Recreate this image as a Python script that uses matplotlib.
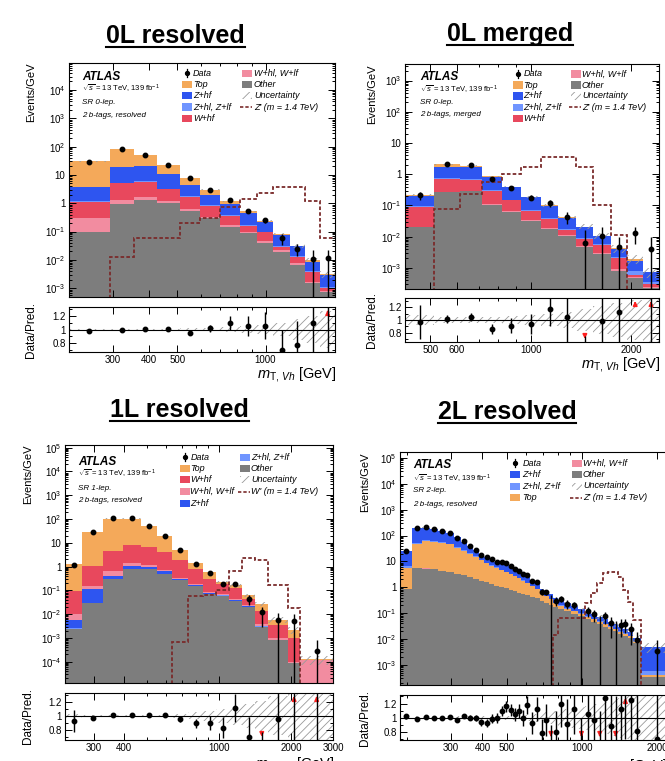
import numpy as np
import matplotlib
matplotlib.use('Agg')
import matplotlib.pyplot as plt
from matplotlib.patches import Rectangle
from matplotlib.lines import Line2D
from matplotlib.ticker import FixedLocator, LogLocator, NullFormatter, FuncFormatter, MultipleLocator

plt.rcParams['font.family'] = ['Liberation Sans', 'DejaVu Sans']
plt.rcParams['mathtext.fontset'] = 'custom'
plt.rcParams['mathtext.rm'] = 'Liberation Sans'
plt.rcParams['mathtext.it'] = 'Liberation Sans:italic'
plt.rcParams['mathtext.bf'] = 'Liberation Sans:bold'
plt.rcParams['hatch.linewidth'] = 0.6
plt.rcParams['hatch.color'] = '#9a9a9a'

W, H = 665, 761

colors = {
    'top': '#f4a95a',
    'zhf': '#2e55f0',
    'zhl': '#7095ff',
    'whf': '#e8485d',
    'whl': '#f28ca0',
    'other': '#7d7d7d',
}
sig_color = '#7a2b2b'

# ---------------- 0L resolved ----------------
edges_0lr = [213, 294, 354, 424, 510, 599, 701, 816, 934, 1064, 1208, 1366, 1539, 1727]
other_0lr = [0.1, 0.95, 1.3, 1.0, 0.52, 0.3, 0.15, 0.087, 0.041, 0.0195, 0.0066, 0.0015, 0.00076]
whl_0lr = [0.2, 0.35, 0.4, 0.24, 0.1, 0.04, 0.02, 0.008, 0.005, 0.0025, 0.0009, 0.0002, 0.00004]
whf_0lr = [0.85, 3.8, 4.0, 1.86, 1.08, 0.46, 0.2, 0.065, 0.049, 0.0075, 0.0055, 0.0019, 0.0002]
zhl_0lr = [0.1, 0.3, 0.3, 0.2, 0.1, 0.05, 0.03, 0.01, 0.005, 0.002, 0.001, 0.0003, 0.0001]
zhf_0lr = [2.65, 14.3, 15.0, 7.2, 2.8, 1.05, 0.55, 0.28, 0.11, 0.0445, 0.016, 0.0044, 0.0019]
top_0lr = [26.1, 62.3, 31.0, 11.5, 3.4, 1.1, 0.25, 0.07, 0.035, 0.007, 0.002, 0.0017, 0.0001]
sig_0lr = [1e-6, 0.013, 0.058, 0.058, 0.2, 0.3, 0.76, 1.4, 2.4, 3.7, 3.9, 1.25, 0.058]
ratio_0lr = [0.976, 1.0, 1.01, 1.005, 0.95, 1.015, 1.1, 1.055, 1.055, 0.70, 0.77, 1.1, 3.7]
rerr_0lr = [0.01, 0.01, 0.01, 0.015, 0.02, 0.05, 0.1, 0.15, 0.2, 0.3, 0.35, 1.15, 3.8]
unc_0lr = [0.01, 0.01, 0.01, 0.01, 0.015, 0.025, 0.04, 0.05, 0.07, 0.1, 0.15, 0.2, 0.27]

# ---------------- 0L merged ----------------
edges_0lm = [420, 513, 613, 713, 817, 933, 1071, 1209, 1369, 1539, 1736, 1946, 2168, 2420]
other_0lm = [0.02, 0.26, 0.28, 0.107, 0.063, 0.032, 0.018, 0.0104, 0.0047, 0.0028, 0.0008, 0.00046, 0.00023]
whl_0lm = [0.001, 0.01, 0.01, 0.005, 0.003, 0.002, 0.0015, 0.001, 0.0005, 0.0003, 0.0001, 0.00005, 0.00002]
whf_0lm = [0.07, 0.43, 0.36, 0.183, 0.082, 0.032, 0.0185, 0.0046, 0.0035, 0.0023, 0.0011, 0.00007, 0.00005]
zhl_0lm = [0.003, 0.03, 0.03, 0.01, 0.006, 0.003, 0.002, 0.001, 0.0006, 0.0003, 0.0002, 0.0002, 0.00004]
zhf_0lm = [0.111, 1.01, 0.98, 0.495, 0.226, 0.111, 0.058, 0.024, 0.0107, 0.0045, 0.0017, 0.00082, 0.00038]
top_0lm = [0.01, 0.38, 0.22, 0.05, 0.02, 0.01, 0.002, 0.001, 0.001, 0.0003, 0.0003, 0.0003, 0.00002]
sig_0lm = [1e-6, 0.076, 0.23, 0.57, 1.0, 1.76, 3.5, 3.5, 1.76, 0.1, 0.011, 1e-6, 1e-6]
ratio_0lm = [0.973, 1.016, 1.05, 0.85, 0.91, 0.935, 1.175, 1.05, 0.3, 0.985, 1.12, 6.8, 5.3]
rerr_0lm = [0.27, 0.06, 0.06, 0.08, 0.12, 0.16, 0.27, 0.45, 0.45, 1.0, 1.2, 3.7, 8.0]
unc_0lm = [0.08, 0.04, 0.04, 0.05, 0.06, 0.08, 0.1, 0.13, 0.17, 0.22, 0.27, 0.32, 0.38]

# ---------------- 1L resolved ----------------
edges_1l = [227, 268, 327, 398, 472, 553, 639, 745, 858, 975, 1101, 1243, 1422, 1605, 1944, 2190, 3000]
other_1l = [0.0023, 0.029, 0.29, 0.78, 0.78, 0.49, 0.26, 0.145, 0.07, 0.06, 0.036, 0.02, 0.003, 0.0008, 0.000085, 0.0]
zhl_1l = [0.0004, 0.001, 0.01, 0.02, 0.02, 0.01, 0.005, 0.003, 0.001, 0.001, 0.001, 0.0003, 0.0001, 0.00002, 0.000002, 0.0]
zhf_1l = [0.0029, 0.08, 0.12, 0.27, 0.2, 0.12, 0.025, 0.022, 0.004, 0.003, 0.003, 0.0007, 0.0002, 0.00003, 0.000003, 0.0]
whl_1l = [0.0043, 0.035, 0.2, 0.31, 0.17, 0.08, 0.04, 0.02, 0.01, 0.006, 0.005, 0.003, 0.0007, 0.00015, 0.00001, 0.00012]
whf_1l = [0.088, 0.925, 3.68, 6.82, 5.73, 3.3, 1.57, 0.61, 0.215, 0.12, 0.075, 0.02, 0.01, 0.0025, 0.0009, 0.0]
top_1l = [1.2, 28.4, 100.7, 96.8, 45.1, 15.0, 3.1, 0.65, 0.27, 0.04, 0.04, 0.018, 0.013, 0.0023, 0.0011, 0.000005]
sig_1l = [1e-7, 1e-7, 1e-7, 1e-7, 1e-7, 1e-7, 0.0007, 0.06, 0.065, 0.1, 0.62, 2.2, 1.9, 0.17, 0.018, 1e-7]
ratio_1l = [0.93, 0.965, 1.005, 1.01, 1.005, 1.005, 0.955, 0.89, 0.9, 0.83, 1.11, 0.69, 0.44, 0.95, 2.4, 2.3]
rerr_1l = [0.16, 0.02, 0.01, 0.01, 0.01, 0.02, 0.04, 0.07, 0.1, 0.15, 0.2, 0.3, 0.33, 1.0, 2.5, 4.5]
unc_1l = [0.03, 0.01, 0.01, 0.01, 0.01, 0.015, 0.03, 0.05, 0.07, 0.1, 0.13, 0.17, 0.22, 0.28, 0.33, 0.4]

# ---------------- 2L resolved ----------------
edges_2l = [187, 209, 228.5, 247.5, 266.5, 286, 306.5, 327, 346.5, 366.5, 387, 406.5, 425.5, 445.5,
            466.5, 488.5, 509.5, 529.5, 550.5, 570, 591.5, 618.5, 648, 678.5, 708, 736.5, 769, 805.5,
            846.5, 903.5, 967.5, 1028.5, 1090, 1150, 1212, 1273.5, 1335.5, 1400, 1464, 1531, 1610.5,
            1730, 2300]
other_2l = [0.84, 5.7, 5.3, 4.9, 4.4, 3.9, 3.3, 2.9, 2.5, 2.1, 1.8, 1.55, 1.35, 1.15, 1.0, 0.9, 0.8,
            0.7, 0.62, 0.56, 0.48, 0.42, 0.37, 0.3, 0.25, 0.21, 0.17, 0.14, 0.12, 0.09, 0.075, 0.058,
            0.047, 0.038, 0.03, 0.025, 0.02, 0.016, 0.013, 0.011, 0.0068, 0.00035]
whl_2l = [0.005, 0.04, 0.04, 0.035, 0.03, 0.025, 0.02, 0.018, 0.015, 0.012, 0.01, 0.009, 0.008, 0.007,
          0.006, 0.005, 0.0045, 0.004, 0.0035, 0.003, 0.0027, 0.0024, 0.0021, 0.0018, 0.0015, 0.0012,
          0.001, 0.0008, 0.0007, 0.0006, 0.0005, 0.0004, 0.00035, 0.0003, 0.00025, 0.0002, 0.00017,
          0.00014, 0.00012, 0.0001, 0.00008, 0.0]
top_2l = [4.96, 39.3, 54.7, 53.1, 47.6, 41.1, 30.7, 23.1, 17.5, 12.9, 9.2, 6.95, 5.45, 4.35, 3.5, 2.9,
          2.4, 2.0, 1.58, 1.24, 0.97, 0.68, 0.48, 0.3, 0.2, 0.13, 0.07, 0.05, 0.03, 0.025, 0.018,
          0.014, 0.011, 0.008, 0.007, 0.005, 0.004, 0.003, 0.0025, 0.0015, 0.001, 0.00005]
zhl_2l = [0.6, 5, 5.5, 5, 4.5, 3.5, 2.5, 1.7, 1.2, 0.8, 0.5, 0.45, 0.35, 0.3, 0.25, 0.2, 0.17, 0.13,
          0.1, 0.09, 0.07, 0.05, 0.04, 0.025, 0.02, 0.016, 0.011, 0.009, 0.007, 0.005, 0.004, 0.0033,
          0.0027, 0.0021, 0.0017, 0.0014, 0.0011, 0.0009, 0.0007, 0.0006, 0.0004, 0.0002]
zhf_2l = [18.6, 142, 138.5, 118, 99.5, 74.5, 49.5, 30.3, 18.8, 12.2, 6.5, 6.45, 4.85, 4.0, 3.75, 3.3,
          2.53, 1.87, 1.4, 1.31, 1.08, 0.65, 0.51, 0.215, 0.21, 0.194, 0.119, 0.101, 0.093, 0.06,
          0.043, 0.0387, 0.0323, 0.0249, 0.0193, 0.0156, 0.0129, 0.0101, 0.0078, 0.0059, 0.0024, 0.0042]
sig_2l = [1e-7] * 26 + [0.014, 0.063, 0.063, 0.063, 0.063, 0.25, 0.59, 1.43, 3.5, 4.0, 4.0, 2.6,
                        0.79, 0.28, 0.055, 1e-7]
ratio_2l = [1.02, 0.98, 1.01, 1.0, 1.0, 1.015, 0.975, 1.03, 1.0, 1.0, 0.94, 0.93, 0.99, 1.0, 1.1, 1.16,
            1.11, 1.05, 1.1, 1.0, 1.18, 0.93, 1.12, 0.79, 0.97, 0.0, 0.8, 1.2, 0.92, 1.13, 0.0, 1.05,
            0.97, 0.0, 1.28, 0.89, 0.0, 1.13, 1.6, 1.25, 0.82, 0.7]
rerr_2l = [0.04, 0.02, 0.02, 0.02, 0.02, 0.02, 0.025, 0.03, 0.035, 0.04, 0.05, 0.055, 0.06, 0.065,
           0.07, 0.08, 0.085, 0.09, 0.1, 0.11, 0.13, 0.15, 0.17, 0.2, 0.22, 0.9, 0.3, 0.33, 0.35, 0.35,
           1.0, 0.45, 0.5, 1.1, 0.6, 0.65, 1.3, 0.75, 0.9, 0.95, 1.0, 1.2]
unc_2l = [0.03, 0.02, 0.02, 0.02, 0.02, 0.02, 0.02, 0.02, 0.02, 0.02, 0.02, 0.02, 0.025, 0.025, 0.03,
          0.03, 0.03, 0.035, 0.035, 0.04, 0.04, 0.05, 0.06, 0.07, 0.08, 0.09, 0.1, 0.11, 0.12, 0.14,
          0.15, 0.17, 0.19, 0.2, 0.22, 0.24, 0.26, 0.28, 0.3, 0.32, 0.35, 0.4]

labels = {'data': 'Data', 'top': 'Top', 'zhf': 'Z+hf', 'zhl': 'Z+hl, Z+lf', 'whf': 'W+hf',
          'whl': 'W+hl, W+lf', 'other': 'Other', 'unc': 'Uncertainty'}

panels = [
    dict(title='0L resolved', title_xy=(175.5, 43),
         edges=edges_0lr,
         stack=[('other', other_0lr), ('whl', whl_0lr), ('whf', whf_0lr), ('zhl', zhl_0lr),
                ('zhf', zhf_0lr), ('top', top_0lr)],
         sig=sig_0lr, sig_label="Z' (m = 1.4 TeV)", ratio=ratio_0lr, rerr=rerr_0lr, unc=unc_0lr,
         main=(69, 63, 335, 297), rbox=(69, 307, 335, 352),
         xlim=(213, 1727), ylim=(4.9e-4, 9e4), rylim=(0.67, 1.33), xticks=[300, 400, 500, 1000],
         ylab_x=31, xlab_xy=(337, 374.5),
         atlas=(82, [77, 89, 102.5, 115.5]), region=['SR 0-lep.', '2 b-tags, resolved'],
         leg=[['data', 'top', 'zhf', 'zhl', 'whf'], ['whl', 'other', 'unc', 'sig']],
         leg_c=(186.5, 246.5), leg_t=(193, 254), leg_rows=[73.3, 84.7, 95.7, 107, 118.3]),
    dict(title='0L merged', title_xy=(510, 41),
         edges=edges_0lm,
         stack=[('other', other_0lm), ('whl', whl_0lm), ('whf', whf_0lm), ('zhl', zhl_0lm),
                ('zhf', zhf_0lm), ('top', top_0lm)],
         sig=sig_0lm, sig_label="Z' (m = 1.4 TeV)", ratio=ratio_0lm, rerr=rerr_0lm, unc=unc_0lm,
         main=(405, 64, 659, 289), rbox=(405, 298, 659, 342),
         xlim=(420, 2420), ylim=(2.1e-4, 3.4e3), rylim=(0.65, 1.35), xticks=[500, 600, 1000, 2000],
         ylab_x=372, xlab_xy=(661, 364.5),
         atlas=(420, [77, 90, 103, 115]), region=['SR 0-lep.', '2 b-tags, merged'],
         leg=[['data', 'top', 'zhf', 'zhl', 'whf'], ['whl', 'other', 'unc', 'sig']],
         leg_c=(518, 576), leg_t=(523.5, 582), leg_rows=[74, 85, 96, 107.3, 118.3]),
    dict(title='1L resolved', title_xy=(179.5, 417),
         edges=edges_1l,
         stack=[('other', other_1l), ('zhl', zhl_1l), ('zhf', zhf_1l), ('whl', whl_1l),
                ('whf', whf_1l), ('top', top_1l)],
         sig=sig_1l, sig_label="W' (m = 1.4 TeV)", ratio=ratio_1l, rerr=rerr_1l, unc=unc_1l,
         main=(65, 445, 333, 683), rbox=(65, 693, 333, 740),
         xlim=(227, 3000), ylim=(1.26e-5, 1.3e5), rylim=(0.65, 1.33),
         xticks=[300, 400, 1000, 2000, 3000],
         ylab_x=28, xlab_xy=(335, 764),
         atlas=(78, [462, 474, 488, 500]), region=['SR 1-lep.', '2 b-tags, resolved'],
         leg=[['data', 'top', 'whf', 'whl', 'zhf'], ['zhl', 'other', 'unc', 'sig']],
         leg_c=(185, 244.7), leg_t=(190.5, 251), leg_rows=[457.3, 468.3, 480, 491.7, 503]),
    dict(title='2L resolved', title_xy=(507, 419),
         edges=edges_2l,
         stack=[('other', other_2l), ('whl', whl_2l), ('top', top_2l), ('zhl', zhl_2l),
                ('zhf', zhf_2l)],
         sig=sig_2l, sig_label="Z' (m = 1.4 TeV)", ratio=ratio_2l, rerr=rerr_2l, unc=unc_2l,
         main=(400, 452, 672, 685), rbox=(400, 695, 672, 740),
         xlim=(187, 2300), ylim=(1.66e-4, 1.7e5), rylim=(0.69, 1.32),
         xticks=[300, 400, 500, 1000, 2000],
         ylab_x=365, xlab_xy=(668, 766),
         atlas=(413, [465, 478.5, 491, 504]), region=['SR 2-lep.', '2 b-tags, resolved'],
         leg=[['data', 'zhf', 'zhl', 'top'], ['whl', 'other', 'unc', 'sig']],
         leg_c=(515, 576.7), leg_t=(522.5, 583), leg_rows=[463.3, 474.7, 486, 497.7]),
]

fig = plt.figure(figsize=(W / 100, H / 100), dpi=100)


def fx(x):
    return x / W


def fy(y):
    return 1 - y / H


def add_box(l, t, r, b):
    return fig.add_axes([fx(l), fy(b), (r - l) / W, (b - t) / H])


def ylog_label(v, pos):
    e = int(round(np.log10(v)))
    if e == 0:
        return '1'
    if e == 1:
        return '10'
    return r'$10^{%d}$' % e


def style(ax):
    ax.tick_params(which='both', direction='in', top=True, right=True, labelsize=7, width=0.7,
                   pad=2.5)
    ax.tick_params(which='major', length=5)
    ax.tick_params(which='minor', length=2.5, labelleft=False, labelbottom=False)
    for s in ax.spines.values():
        s.set_linewidth(0.8)


def draw_legend(p):
    for col, keys in enumerate(p['leg']):
        cx = p['leg_c'][col]
        tx = p['leg_t'][col]
        for row, key in enumerate(keys):
            cy = p['leg_rows'][row]
            if key == 'data':
                fig.add_artist(Line2D([fx(cx), fx(cx)], [fy(cy - 4), fy(cy + 4)], color='k', lw=0.9,
                                      transform=fig.transFigure))
                fig.add_artist(Line2D([fx(cx)], [fy(cy)], marker='o', ms=2.8, color='k',
                                      transform=fig.transFigure))
                text = labels[key]
            elif key == 'sig':
                fig.add_artist(Line2D([fx(cx - 7), fx(cx + 5)], [fy(cy), fy(cy)], color=sig_color,
                                      lw=1.2, ls=(0, (2, 1.2)), transform=fig.transFigure))
                text = p['sig_label']
            elif key == 'unc':
                fig.add_artist(Rectangle((fx(cx - 5), fy(cy + 3.5)), 10 / W, 7 / H,
                                         transform=fig.transFigure, facecolor='none',
                                         edgecolor='#9a9a9a', hatch='////', lw=0))
                text = labels[key]
            else:
                fig.add_artist(Rectangle((fx(cx - 5), fy(cy + 3.5)), 10 / W, 7 / H,
                                         transform=fig.transFigure, facecolor=colors[key], lw=0))
                text = labels[key]
            fig.text(fx(tx), fy(cy), text, fontsize=6.5, style='italic', ha='left', va='center')


titles = []
for p in panels:
    edges = np.array(p['edges'], dtype=float)
    centers = np.sqrt(edges[:-1] * edges[1:])
    ax = add_box(*p['main'])
    rax = add_box(*p['rbox'])

    base = np.full(len(edges) - 1, 1e-9)
    for key, vals in p['stack']:
        top = base + np.array(vals)
        ax.stairs(top, edges, baseline=base, fill=True, color=colors[key], lw=0)
        base = top
    total = base
    unc = np.array(p['unc'])
    ax.stairs(total * (1 + unc), edges, baseline=total * (1 - unc), fill=True, facecolor='none',
              edgecolor='#9a9a9a', hatch='////', lw=0)
    ax.stairs(p['sig'], edges, baseline=None, color=sig_color, lw=1.3, ls=(0, (2, 1.2)))

    ratio = np.array(p['ratio'])
    rerr = np.array(p['rerr'])
    data = ratio * total
    derr = rerr * total
    lo = np.maximum(data - derr, 1e-12)
    ax.vlines(centers, lo, data + derr, color='k', lw=1.0, zorder=5)
    ok = data > 0
    ax.plot(centers[ok], data[ok], 'o', color='k', ms=3.2, zorder=6)

    ax.set_xscale('log')
    ax.set_yscale('log')
    ax.set_xlim(*p['xlim'])
    ax.set_ylim(*p['ylim'])
    # only decades inside the y range get a tick (no phantom labels outside the frame)
    y0, y1 = p['ylim']
    decades = [10.0 ** k for k in range(int(np.ceil(np.log10(y0))), int(np.floor(np.log10(y1))) + 1)]
    minors = [m * 10.0 ** k for k in range(int(np.floor(np.log10(y0))), int(np.floor(np.log10(y1))) + 1)
              for m in range(2, 10) if y0 <= m * 10.0 ** k <= y1]
    ax.yaxis.set_major_locator(FixedLocator(decades))
    ax.yaxis.set_minor_locator(FixedLocator(minors))
    ax.yaxis.set_major_formatter(FuncFormatter(ylog_label))
    ax.yaxis.set_minor_formatter(NullFormatter())
    ax.xaxis.set_major_locator(FixedLocator(p['xticks']))
    ax.xaxis.set_minor_locator(LogLocator(base=10, subs=np.arange(1, 10), numticks=30))
    style(ax)
    ax.tick_params(axis='x', which='both', labelbottom=False)

    # ratio panel
    rax.stairs(1 + unc, edges, baseline=1 - unc, fill=True, facecolor='none', edgecolor='#9a9a9a',
               hatch='////', lw=0)
    rax.axhline(1, color='k', lw=0.8)
    rax.vlines(centers, ratio - rerr, ratio + rerr, color='k', lw=1.0, zorder=5)
    rax.plot(centers[ok], ratio[ok], 'o', color='k', ms=3.2, zorder=6)
    r0, r1 = p['rylim']
    for c, r in zip(centers, ratio):
        if r > r1:
            rax.annotate('', xy=(c, r1 - 0.005), xytext=(c, 1.2), annotation_clip=False,
                         arrowprops=dict(arrowstyle='-|>', color='#ff2020', lw=1.2, mutation_scale=6))
        elif r < r0:
            rax.annotate('', xy=(c, r0 + 0.005), xytext=(c, 0.8), annotation_clip=False,
                         arrowprops=dict(arrowstyle='-|>', color='#ff2020', lw=1.2, mutation_scale=6))
    rax.set_xscale('log')
    rax.set_xlim(*p['xlim'])
    rax.set_ylim(r0, r1)
    rax.xaxis.set_major_locator(FixedLocator(p['xticks']))
    rax.xaxis.set_major_formatter(FuncFormatter(lambda v, pos: '%d' % v))
    rax.xaxis.set_minor_locator(LogLocator(base=10, subs=np.arange(1, 10), numticks=30))
    rax.xaxis.set_minor_formatter(NullFormatter())
    rax.yaxis.set_major_locator(FixedLocator([0.8, 1.0, 1.2]))
    rax.yaxis.set_major_formatter(FuncFormatter(lambda v, pos: '%g' % v))
    rax.yaxis.set_minor_locator(MultipleLocator(0.1))
    style(rax)

    # axis titles
    ml, mt, mr, mb = p['main']
    rl, rt, rr, rb = p['rbox']
    fig.text(fx(p['ylab_x']), fy(mt), 'Events/GeV', rotation=90, fontsize=8, ha='center', va='top')
    fig.text(fx(p['ylab_x']), fy((rt + rb) / 2), 'Data/Pred.', rotation=90, fontsize=8.5,
             ha='center', va='center')
    fig.text(fx(p['xlab_xy'][0]), fy(p['xlab_xy'][1]), r'$m_{\mathrm{T},\,Vh}$ [GeV]',
             fontsize=10.5, ha='right', va='center')

    # ATLAS label block
    axx, ys = p['atlas']
    fig.text(fx(axx), fy(ys[0]), 'ATLAS', fontsize=8.5, weight='bold', style='italic',
             ha='left', va='center')
    fig.text(fx(axx), fy(ys[1]), r'$\sqrt{s}$ = 13 TeV, 139 fb$^{-1}$', fontsize=5.5,
             ha='left', va='center')
    fig.text(fx(axx), fy(ys[2]), p['region'][0], fontsize=5.8, style='italic', ha='left',
             va='center')
    fig.text(fx(axx), fy(ys[3]), p['region'][1], fontsize=5.8, style='italic', ha='left',
             va='center')

    draw_legend(p)

    t = fig.text(fx(p['title_xy'][0]), fy(p['title_xy'][1]), p['title'], fontsize=18,
                 weight='bold', ha='center', va='baseline')
    titles.append((t, p['title_xy'][1]))

# underline the panel titles
fig.canvas.draw()
renderer = fig.canvas.get_renderer()
for t, base_y in titles:
    bb = t.get_window_extent(renderer)
    uy = fy(base_y + 4)
    fig.add_artist(Line2D([bb.x0 / W, bb.x1 / W], [uy, uy], color='k', lw=1.5,
                          transform=fig.transFigure))

fig.savefig('out.png', dpi=100)
